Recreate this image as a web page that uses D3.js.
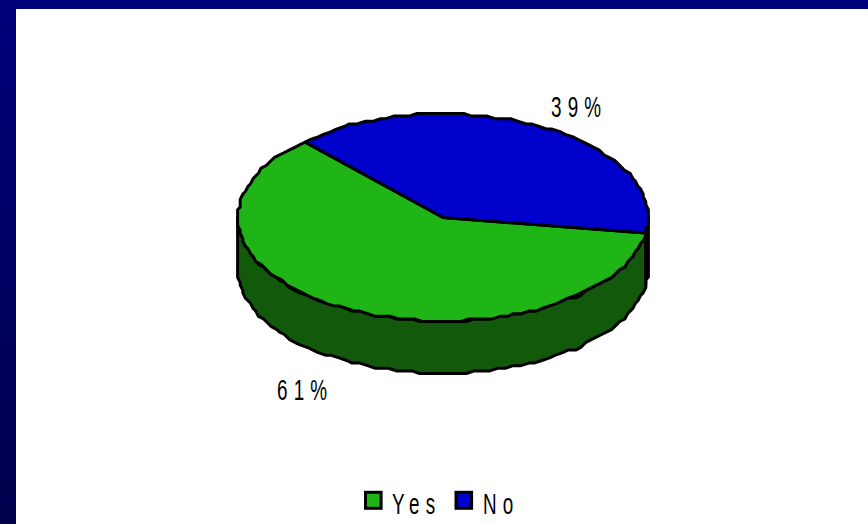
<!DOCTYPE html>
<html><head><meta charset="utf-8"><style>html,body{margin:0;padding:0;background:#fff}svg{display:block}</style>
<script src="https://cdn.jsdelivr.net/npm/d3@7"></script></head><body><svg id="c" width="868" height="524"></svg>
<script>
const categories = ["Yes", "No"];
const values = [61, 39];
const labels = ["61%", "39%"];
const topColors = ["#1fb516", "#0000cd"];
const wallColors = ["#12590c", "#000050"];

const W = 868, H = 524;
const svg = d3.select("#c");
const grad = svg.append("defs").append("linearGradient").attr("id", "bg").attr("x1", 0).attr("x2", 0).attr("y1", 0).attr("y2", 1);
grad.append("stop").attr("offset", 0).attr("stop-color", "#00007c");
grad.append("stop").attr("offset", 1).attr("stop-color", "#00004c");
svg.append("rect").attr("width", W).attr("height", H).attr("fill", "url(#bg)");
svg.append("rect").attr("x", 16).attr("y", 9).attr("width", W - 16).attr("height", H - 9).attr("fill", "#fff");

const cx = 443, cy = 217.5, rx = 205, ry = 103.5, depth = 52, grid = 2.6;
const pie = d3.pie().sort(null).value(d => d).startAngle(98.2 * Math.PI / 180).endAngle((98.2 + 360) * Math.PI / 180);
const arcs = pie(values);
const snap = v => Math.round(v / grid) * grid;
const pt = (a, dy = 0) => [cx + snap(rx * Math.sin(a)), cy + snap(-ry * Math.cos(a)) + dy];
function rim(a0, a1, dy = 0) {
  const n = Math.max(2, Math.ceil(Math.abs(a1 - a0) * 26));
  return d3.range(n + 1).map(i => pt(a0 + (a1 - a0) * i / n, dy));
}
const line = d3.line();
const style = s => s.attr("stroke", "#000").attr("stroke-width", 3).attr("stroke-linejoin", "round");

// side walls: only the part of each slice that faces the viewer (angles 90..270 degrees)
const lo = Math.PI / 2, hi = 3 * Math.PI / 2;
arcs.forEach((d, i) => {
  [[d.startAngle, d.endAngle], [d.startAngle - 2 * Math.PI, d.endAngle - 2 * Math.PI]].forEach(([s, e]) => {
    const a0 = Math.max(s, lo), a1 = Math.min(e, hi);
    if (a1 <= a0) return;
    style(svg.append("path")).attr("d", line(rim(a0, a1).concat(rim(a1, a0, depth))) + "Z").attr("fill", wallColors[i]);
  });
});
// top faces
arcs.forEach((d, i) => {
  const pts = [[cx, cy]].concat(rim(d.startAngle, d.endAngle));
  style(svg.append("path")).attr("d", line(pts) + "Z").attr("fill", topColors[i]);
});

// tall, narrow, widely spaced text as in the reference
function txt(x, y, s) {
  svg.append("text").attr("transform", `translate(${x},${y}) scale(0.64,1)`).text(s)
    .attr("font-family", "'Liberation Sans'").attr("font-size", 29.5).attr("fill", "#000")
    .attr("letter-spacing", 9.6);
}
txt(551, 116.5, labels[1]);
txt(277, 399.5, labels[0]);

// legend
const lx = [365.5, 456], tx = [392, 483];
categories.forEach((c, i) => {
  svg.append("rect").attr("x", lx[i]).attr("y", 492.3).attr("width", 15.6).attr("height", 16)
    .attr("fill", topColors[i]).attr("stroke", "#000").attr("stroke-width", 3);
  txt(tx[i], 513.5, c);
});
</script></body></html>
